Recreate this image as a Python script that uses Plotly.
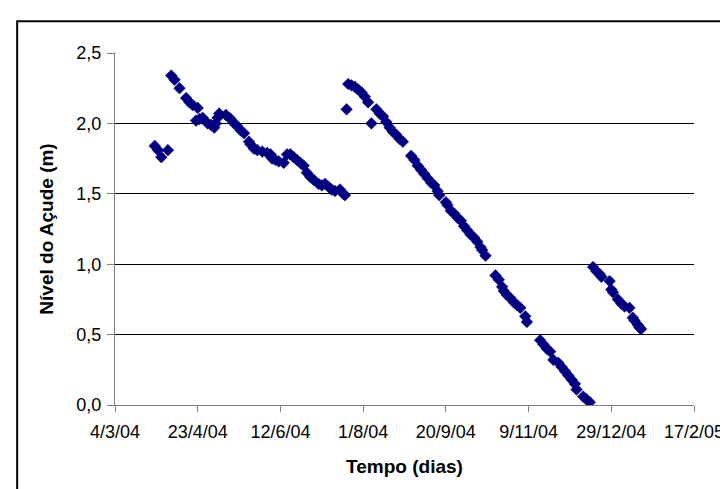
import plotly.graph_objects as go

dates = [
    "2004-03-28", "2004-03-30", "2004-04-01", "2004-04-05", "2004-04-07", "2004-04-09",
    "2004-04-12", "2004-04-16", "2004-04-18", "2004-04-20", "2004-04-23", "2004-04-22",
    "2004-04-24", "2004-04-26", "2004-04-29", "2004-05-01", "2004-05-03", "2004-05-04",
    "2004-05-05", "2004-05-06", "2004-05-10", "2004-05-12", "2004-05-13", "2004-05-15",
    "2004-05-17", "2004-05-19", "2004-05-21", "2004-05-24", "2004-05-25", "2004-05-27",
    "2004-05-29", "2004-06-01", "2004-06-04", "2004-06-06", "2004-06-07", "2004-06-09",
    "2004-06-11", "2004-06-14", "2004-06-16", "2004-06-18", "2004-06-20", "2004-06-22",
    "2004-06-24", "2004-06-26", "2004-06-28", "2004-06-30", "2004-07-02", "2004-07-05",
    "2004-07-07", "2004-07-09", "2004-07-11", "2004-07-13", "2004-07-15", "2004-07-18",
    "2004-07-20", "2004-07-21",
    "2004-07-22", "2004-07-23", "2004-07-25", "2004-07-27", "2004-07-29", "2004-07-31",
    "2004-08-02", "2004-08-04", "2004-08-06", "2004-08-09", "2004-08-11", "2004-08-13",
    "2004-08-15", "2004-08-17", "2004-08-19", "2004-08-21", "2004-08-23", "2004-08-25",
    "2004-08-30", "2004-09-01", "2004-09-03", "2004-09-05", "2004-09-07", "2004-09-09",
    "2004-09-11", "2004-09-13", "2004-09-15", "2004-09-16", "2004-09-20", "2004-09-21",
    "2004-09-23", "2004-09-25", "2004-09-27", "2004-09-29", "2004-10-01", "2004-10-03",
    "2004-10-05", "2004-10-07", "2004-10-09", "2004-10-11", "2004-10-12", "2004-10-14",
    "2004-10-20", "2004-10-22", "2004-10-24", "2004-10-25", "2004-10-27", "2004-10-29",
    "2004-10-31", "2004-11-02", "2004-11-04", "2004-11-07", "2004-11-08",
    "2004-11-16", "2004-11-18", "2004-11-20", "2004-11-22", "2004-11-24", "2004-11-27",
    "2004-11-29", "2004-12-01", "2004-12-03", "2004-12-05", "2004-12-07", "2004-12-08",
    "2004-12-12", "2004-12-14", "2004-12-16",
    "2004-12-18", "2004-12-20", "2004-12-22", "2004-12-23", "2004-12-28", "2004-12-29",
    "2004-12-30", "2005-01-02", "2005-01-04", "2005-01-06", "2005-01-09", "2005-01-11",
    "2005-01-12", "2005-01-14", "2005-01-15", "2005-01-16",
]
levels = [
    1.84, 1.81, 1.76, 1.81, 2.34, 2.31,
    2.25, 2.18, 2.15, 2.13, 2.11, 2.02,
    2.03, 2.04, 2.00, 1.99, 1.97, 2.00,
    2.04, 2.07, 2.06, 2.04, 2.03, 2.00,
    1.98, 1.95, 1.93, 1.87, 1.85, 1.82,
    1.81, 1.80, 1.79, 1.78, 1.75, 1.74,
    1.73, 1.72, 1.78, 1.78, 1.76, 1.74,
    1.72, 1.70, 1.65, 1.62, 1.60, 1.57,
    1.56, 1.57, 1.55, 1.53, 1.52, 1.53,
    1.50, 1.49,
    2.10, 2.28, 2.27, 2.26, 2.24, 2.22,
    2.19, 2.15, 2.00, 2.10, 2.07, 2.05,
    2.01, 1.97, 1.94, 1.92, 1.89, 1.87,
    1.77, 1.74, 1.70, 1.67, 1.64, 1.61,
    1.58, 1.56, 1.52, 1.49, 1.44, 1.42,
    1.38, 1.36, 1.33, 1.31, 1.27, 1.24,
    1.21, 1.19, 1.16, 1.12, 1.10, 1.06,
    0.92, 0.89, 0.84, 0.81, 0.78, 0.76,
    0.73, 0.71, 0.69, 0.63, 0.59,
    0.46, 0.43, 0.40, 0.38, 0.32, 0.30,
    0.27, 0.24, 0.21, 0.18, 0.15, 0.11,
    0.06, 0.04, 0.02,
    0.98, 0.95, 0.93, 0.91, 0.88, 0.82,
    0.80, 0.75, 0.72, 0.70, 0.69, 0.62,
    0.60, 0.57, 0.55, 0.54,
]

x_tick_vals = ["2004-03-04", "2004-04-23", "2004-06-12", "2004-08-01",
               "2004-09-20", "2004-11-09", "2004-12-29", "2005-02-17"]
x_tick_text = ["4/3/04", "23/4/04", "12/6/04", "1/8/04",
               "20/9/04", "9/11/04", "29/12/04", "17/2/05"]
y_tick_vals = [0.0, 0.5, 1.0, 1.5, 2.0, 2.5]

FONT = "Liberation Sans, Arial, sans-serif"

fig = go.Figure()
fig.add_trace(go.Scatter(
    x=dates, y=levels, mode="markers",
    marker=dict(symbol="diamond", size=9, color="#000080", line=dict(width=0.5, color="#000080")),
    showlegend=False, hoverinfo="x+y",
))

fig.update_layout(
    width=728, height=489,
    margin=dict(l=107, r=42, t=45, b=92),
    paper_bgcolor="white", plot_bgcolor="white",
    separators=",.",
    font=dict(family=FONT, color="black", size=18),
    xaxis=dict(
        range=[x_tick_vals[0], x_tick_vals[-1]],
        tickmode="array", tickvals=x_tick_vals, ticktext=x_tick_text,
        showgrid=False, zeroline=False,
        showline=True, linecolor="#808080", linewidth=1,
        ticks="outside", ticklen=6, tickcolor="#808080",
        ticklabelstandoff=4,
        tickfont=dict(size=18, family=FONT),
        title=dict(text="<b>Tempo (dias)</b>", font=dict(size=19, family=FONT), standoff=19),
    ),
    yaxis=dict(
        range=[0, 2.5],
        tickmode="array", tickvals=y_tick_vals, tickformat=".1f",
        showgrid=True, gridcolor="black", gridwidth=1,
        zeroline=False,
        showline=True, linecolor="#808080", linewidth=1,
        ticks="outside", ticklen=7, tickcolor="#808080",
        ticklabelstandoff=2,
        tickfont=dict(size=18, family=FONT),
        title=dict(text="<b>Nível do Açude (m)</b>", font=dict(size=19, family=FONT), standoff=17),
    ),
    shapes=[
        dict(type="rect", xref="paper", yref="paper",
             x0=-0.169, x1=1.08, y0=-0.27, y1=1.09,
             line=dict(color="black", width=2), fillcolor="rgba(0,0,0,0)", layer="below"),
    ],
)

fig.write_html("out.html")
